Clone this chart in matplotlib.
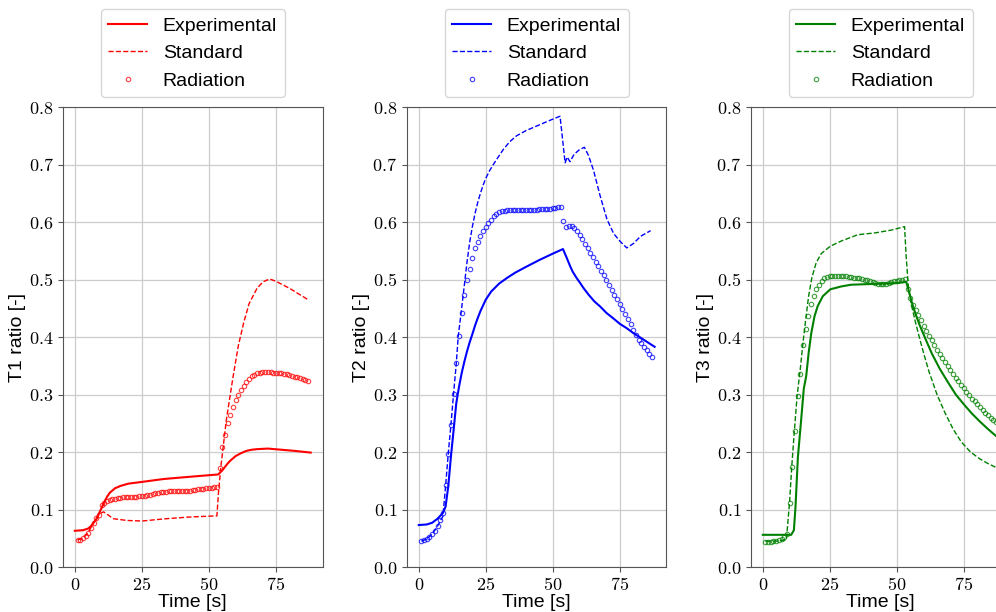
import numpy as np
import matplotlib
matplotlib.use('Agg')
import matplotlib.pyplot as plt
from matplotlib.ticker import FuncFormatter

plt.rcParams['font.family'] = ['Liberation Sans', 'DejaVu Sans']
plt.rcParams['mathtext.fontset'] = 'cm'

# radiation model sampled every second
t_rad = list(range(1, 88))

# ---- T1 (red)
t1_exp_t = [0, 3, 5, 6, 8, 10, 11, 12, 13, 15, 17, 20, 25, 33, 43, 53.5, 55, 56, 57, 58, 59, 60, 62, 64, 66, 68,
            72, 77, 82, 88]
t1_exp = [0.063, 0.064, 0.067, 0.071, 0.083, 0.103, 0.113, 0.122, 0.129, 0.137, 0.141, 0.145, 0.148, 0.153,
          0.157, 0.161, 0.168, 0.174, 0.180, 0.185, 0.189, 0.193, 0.198, 0.202, 0.204, 0.205, 0.206, 0.204,
          0.202, 0.199]
t1_std_t = [1, 3, 5, 7, 9, 10.7, 14.4, 19.4, 25, 34, 43, 53, 53.6, 54.5, 55.5, 56.5, 57.5, 59, 61, 63, 65, 68,
            70.2, 72.7, 75, 80, 87]
t1_std = [0.047, 0.050, 0.060, 0.077, 0.092, 0.096, 0.084, 0.081, 0.080, 0.084, 0.087, 0.089, 0.130, 0.175,
          0.215, 0.255, 0.285, 0.330, 0.385, 0.425, 0.458, 0.485, 0.496, 0.501, 0.497, 0.485, 0.465]
t1_rad = [0.047, 0.047, 0.050, 0.054, 0.060, 0.067, 0.077, 0.085, 0.091, 0.107,
          0.111, 0.115, 0.117, 0.118, 0.119, 0.120, 0.120, 0.121, 0.121, 0.122,
          0.122, 0.122, 0.122, 0.123, 0.123, 0.124, 0.125, 0.126, 0.127, 0.128,
          0.129, 0.130, 0.131, 0.131, 0.132, 0.132, 0.133, 0.133, 0.133, 0.133,
          0.133, 0.133, 0.133, 0.134, 0.134, 0.135, 0.135, 0.136, 0.137, 0.137,
          0.138, 0.139, 0.140, 0.173, 0.208, 0.230, 0.250, 0.265, 0.279, 0.291,
          0.300, 0.308, 0.315, 0.322, 0.327, 0.332, 0.334, 0.337, 0.338, 0.339,
          0.339, 0.339, 0.339, 0.338, 0.338, 0.338, 0.337, 0.336, 0.335, 0.334,
          0.333, 0.331, 0.330, 0.329, 0.327, 0.326, 0.324]

# ---- T2 (blue)
t2_exp_t = [0, 3, 5, 7, 9, 10, 11, 12, 13, 14, 15, 16, 17, 18, 19, 20, 21, 22, 23, 25, 27, 30, 33, 36, 40, 45,
            50, 53.8, 55, 56.5, 57.5, 59, 60.2, 61.5, 63.3, 65.5, 67.7, 70, 72.7, 75, 77.7, 80, 82.7, 85, 88]
t2_exp = [0.073, 0.074, 0.077, 0.084, 0.094, 0.105, 0.140, 0.192, 0.238, 0.285, 0.313, 0.337, 0.357, 0.375,
          0.391, 0.405, 0.420, 0.433, 0.445, 0.465, 0.479, 0.493, 0.503, 0.512, 0.522, 0.534, 0.545, 0.553,
          0.540, 0.523, 0.513, 0.502, 0.494, 0.485, 0.474, 0.462, 0.453, 0.442, 0.432, 0.423, 0.415, 0.407,
          0.399, 0.392, 0.383]
t2_std_t = [1, 3, 5, 7, 8, 9, 10, 11, 12, 13, 14, 14.7, 16, 17, 18, 19, 20, 21, 22, 23, 24, 25, 26.5, 28.5, 31.5,
            34, 36.5, 40, 44, 49, 52.7, 53.4, 54.6, 55.4, 56.4, 58, 60, 61.8, 63.3, 65.2, 67.7, 70.2, 72.7, 75.2,
            77.6, 80.2, 82.7, 86.5]
t2_std = [0.045, 0.049, 0.057, 0.071, 0.080, 0.088, 0.140, 0.197, 0.247, 0.302, 0.354, 0.400, 0.450, 0.490,
          0.530, 0.565, 0.592, 0.615, 0.634, 0.650, 0.664, 0.676, 0.690, 0.705, 0.726, 0.740, 0.750, 0.759,
          0.767, 0.777, 0.784, 0.755, 0.703, 0.713, 0.705, 0.718, 0.726, 0.730, 0.716, 0.690, 0.645, 0.605,
          0.580, 0.566, 0.555, 0.563, 0.575, 0.585]
t2_rad = [0.045, 0.047, 0.049, 0.052, 0.057, 0.063, 0.071, 0.081, 0.094, 0.142,
          0.196, 0.247, 0.301, 0.354, 0.402, 0.441, 0.473, 0.499, 0.519, 0.537,
          0.554, 0.566, 0.576, 0.585, 0.591, 0.598, 0.604, 0.610, 0.614, 0.617,
          0.619, 0.620, 0.621, 0.621, 0.621, 0.621, 0.621, 0.621, 0.621, 0.621,
          0.621, 0.621, 0.621, 0.621, 0.622, 0.622, 0.622, 0.622, 0.623, 0.624,
          0.625, 0.626, 0.627, 0.602, 0.592, 0.593, 0.593, 0.589, 0.585, 0.578,
          0.570, 0.562, 0.554, 0.547, 0.539, 0.531, 0.524, 0.515, 0.508, 0.499,
          0.490, 0.482, 0.473, 0.466, 0.457, 0.449, 0.440, 0.432, 0.423, 0.412,
          0.403, 0.395, 0.389, 0.383, 0.377, 0.371, 0.365]

# ---- T3 (green)
t3_exp_t = [0, 10.6, 11.6, 12.2, 13.1, 14.3, 15.3, 16.2, 17.1, 18.1, 19.3, 20.5, 22.4, 25.2, 29.3, 33, 39, 45.5,
            50.4, 53.5, 54.5, 55.5, 57, 58.5, 60.5, 63, 66, 69, 72, 75, 78, 81, 84, 88]
t3_exp = [0.056, 0.056, 0.064, 0.104, 0.191, 0.255, 0.310, 0.332, 0.372, 0.407, 0.436, 0.454, 0.471, 0.483,
          0.488, 0.491, 0.492, 0.493, 0.494, 0.496, 0.480, 0.462, 0.440, 0.421, 0.399, 0.372, 0.345, 0.322,
          0.300, 0.283, 0.267, 0.253, 0.240, 0.224]
t3_std_t = [1, 5, 8.7, 9, 10, 10.8, 11.8, 12.8, 14.1, 15, 16, 17.1, 18.3, 19.9, 21.8, 25.2, 29.3, 35.5, 41.7, 48,
            52.9, 53.5, 54.4, 55.5, 57, 58.5, 60, 62, 65, 68, 71, 74, 77.5, 81, 84, 88]
t3_std = [0.045, 0.045, 0.047, 0.058, 0.113, 0.174, 0.238, 0.297, 0.349, 0.390, 0.430, 0.471, 0.503, 0.529,
          0.545, 0.558, 0.567, 0.578, 0.581, 0.586, 0.592, 0.540, 0.483, 0.455, 0.425, 0.398, 0.372, 0.340,
          0.300, 0.268, 0.240, 0.218, 0.200, 0.188, 0.180, 0.171]
t3_rad = [0.043, 0.044, 0.044, 0.045, 0.046, 0.047, 0.049, 0.052, 0.057, 0.112,
          0.174, 0.237, 0.297, 0.336, 0.386, 0.414, 0.436, 0.457, 0.472, 0.484,
          0.491, 0.498, 0.502, 0.505, 0.506, 0.506, 0.506, 0.506, 0.506, 0.506,
          0.506, 0.505, 0.504, 0.503, 0.502, 0.502, 0.501, 0.500, 0.499, 0.497,
          0.495, 0.494, 0.493, 0.492, 0.492, 0.493, 0.494, 0.495, 0.497, 0.498,
          0.499, 0.500, 0.501, 0.484, 0.468, 0.456, 0.447, 0.438, 0.429, 0.420,
          0.411, 0.402, 0.394, 0.386, 0.378, 0.370, 0.363, 0.356, 0.349, 0.342,
          0.335, 0.329, 0.323, 0.317, 0.311, 0.305, 0.299, 0.293, 0.288, 0.283,
          0.278, 0.273, 0.268, 0.264, 0.260, 0.256, 0.252]

panels = [
    ('T1 ratio [-]', 'red', t1_exp_t, t1_exp, t1_std_t, t1_std, t1_rad),
    ('T2 ratio [-]', 'blue', t2_exp_t, t2_exp, t2_std_t, t2_std, t2_rad),
    ('T3 ratio [-]', 'green', t3_exp_t, t3_exp, t3_std_t, t3_std, t3_rad),
]
lefts = [0.0633, 0.4086, 0.754]

fig = plt.figure(figsize=(9.96, 6.12), dpi=100)
tick_fmt = FuncFormatter(lambda v, p: r'$%.1f$' % v)
xtick_fmt = FuncFormatter(lambda v, p: r'$%d$' % v)

for left, (ylab, c, te, ye, ts, ys, yr) in zip(lefts, panels):
    ax = fig.add_axes([left, 0.0735, 0.2605, 0.7516])
    ax.plot(te, ye, '-', color=c, lw=1.5, label='Experimental')
    ax.plot(ts, ys, '--', color=c, lw=1.0, label='Standard')
    ax.plot(t_rad, yr, 'o', color=c, mfc='none', ms=3.2, mew=0.8, alpha=0.75, label='Radiation')
    ax.set_ylim(0, 0.8)
    ax.set_xticks([0, 25, 50, 75])
    ax.set_yticks(np.arange(0, 0.81, 0.1))
    ax.xaxis.set_major_formatter(xtick_fmt)
    ax.yaxis.set_major_formatter(tick_fmt)
    ax.tick_params(labelsize=13, color='#555555')
    ax.grid(True, color='#cccccc', lw=0.9)
    ax.set_axisbelow(True)
    for s in ax.spines.values():
        s.set_color('#555555')
    ax.set_xlabel('Time [s]', fontsize=14, labelpad=0)
    ax.set_ylabel(ylab, fontsize=14, labelpad=2)
    ax.legend(loc='lower center', bbox_to_anchor=(0.5, 1.0), fontsize=14, edgecolor='#cccccc')

fig.savefig('out.png', dpi=100)
